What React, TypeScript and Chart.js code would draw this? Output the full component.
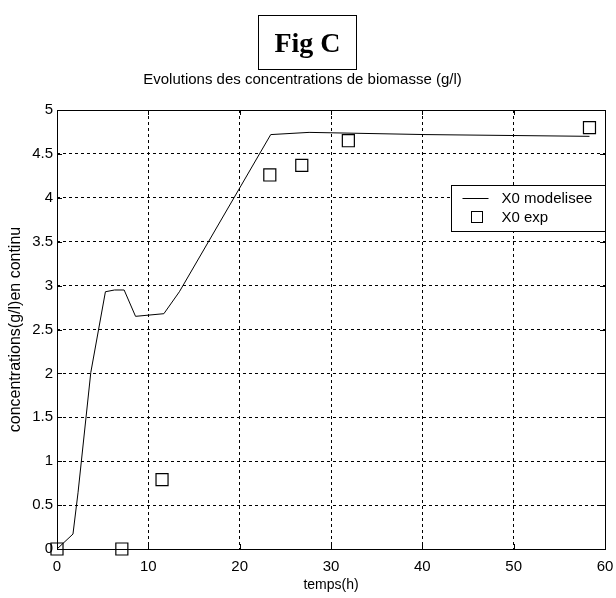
import { useEffect, useRef } from "react";
import { Chart, registerables } from "chart.js";

Chart.register(...registerables);

// ---- data ----
const figLabel = "Fig C";
const chartTitle = "Evolutions des concentrations de biomasse (g/l)";
const xLabel = "temps(h)";
const yLabel = "concentrations(g/l)en continu";
const seriesNames = ["X0 modelisee", "X0 exp"];

const timeModel = [0, 1.75, 2.3, 3.7, 5.3, 6.3, 7.35, 8.6, 11.7, 13.4, 23.4, 27.6, 40.4, 58.3];
const concModel = [0, 0.17, 0.64, 2.01, 2.93, 2.95, 2.95, 2.65, 2.68, 2.93, 4.72, 4.745, 4.72, 4.7];

const timeExp = [0, 7.1, 11.5, 23.3, 26.8, 31.9, 58.3];
const concExp = [0, 0, 0.79, 4.26, 4.37, 4.65, 4.8];

const xTicks = [0, 10, 20, 30, 40, 50, 60];
const yTicks = [0, 0.5, 1, 1.5, 2, 2.5, 3, 3.5, 4, 4.5, 5];

const FONT = "'Liberation Sans', Arial, sans-serif";

const framePlugin = {
  id: "matlabFrame",
  afterDatasetsDraw(chart: any) {
    const { ctx, chartArea: a } = chart;
    const xs = chart.scales.x;
    const ys = chart.scales.y;
    ctx.save();
    ctx.strokeStyle = "#000";
    ctx.lineWidth = 1;
    ctx.setLineDash([]);
    ctx.strokeRect(Math.round(a.left) + 0.5, Math.round(a.top) + 0.5, Math.round(a.right - a.left), Math.round(a.bottom - a.top));
    const tl = 5;
    ctx.beginPath();
    xTicks.forEach((v) => {
      const px = Math.round(xs.getPixelForValue(v)) + 0.5;
      ctx.moveTo(px, a.bottom);
      ctx.lineTo(px, a.bottom - tl);
      ctx.moveTo(px, a.top);
      ctx.lineTo(px, a.top + tl);
    });
    yTicks.forEach((v) => {
      const py = Math.round(ys.getPixelForValue(v)) + 0.5;
      ctx.moveTo(a.left, py);
      ctx.lineTo(a.left + tl, py);
      ctx.moveTo(a.right, py);
      ctx.lineTo(a.right - tl, py);
    });
    ctx.stroke();
    ctx.restore();
  },
  afterDraw(chart: any) {
    const { ctx, chartArea: a } = chart;
    const ds = chart.data.datasets;
    const right = Math.round(a.right) + 0.5;
    const top = Math.round(a.top + 75) + 0.5;
    const w = 154;
    const h = 46;
    const left = right - w;
    ctx.save();
    ctx.fillStyle = "#fff";
    ctx.fillRect(left, top, w, h);
    ctx.strokeStyle = "#000";
    ctx.lineWidth = 1;
    ctx.setLineDash([]);
    ctx.strokeRect(left, top, w, h);
    const y1 = top + 13;
    const y2 = top + 32;
    ctx.beginPath();
    ctx.moveTo(left + 11, y1);
    ctx.lineTo(left + 37, y1);
    ctx.stroke();
    ctx.fillStyle = "#fff";
    ctx.fillRect(left + 20, y2 - 6, 11, 11);
    ctx.strokeRect(left + 20, y2 - 6, 11, 11);
    ctx.fillStyle = "#000";
    ctx.font = `15px ${FONT}`;
    ctx.textBaseline = "middle";
    ctx.textAlign = "left";
    ctx.fillText(ds[0].label, left + 50, y1);
    ctx.fillText(ds[1].label, left + 50, y2);
    ctx.restore();
  },
};

export default function App() {
  const ref = useRef<HTMLCanvasElement>(null);

  useEffect(() => {
    if (!ref.current) return;
    const chart = new Chart(ref.current, {
      type: "scatter",
      data: {
        datasets: [
          {
            label: seriesNames[0],
            type: "line",
            data: timeModel.map((t, i) => ({ x: t, y: concModel[i] })),
            borderColor: "#000",
            borderWidth: 1,
            pointRadius: 0,
            tension: 0,
            fill: false,
          },
          {
            label: seriesNames[1],
            data: timeExp.map((t, i) => ({ x: t, y: concExp[i] })),
            pointStyle: "rect",
            pointRadius: 8.5,
            borderColor: "#000",
            backgroundColor: "rgba(255,255,255,0)",
            borderWidth: 1.2,
            clip: false,
          } as any,
        ],
      },
      options: {
        animation: false,
        responsive: false,
        devicePixelRatio: 1,
        layout: { padding: { top: 71, right: 11, left: 0, bottom: 0 } },
        plugins: {
          legend: { display: false },
          tooltip: { enabled: false },
          title: {
            display: true,
            text: chartTitle,
            color: "#000",
            font: { family: FONT, size: 15, weight: "normal" },
            padding: { top: 0, bottom: 21 },
          },
        },
        scales: {
          x: {
            type: "linear",
            min: 0,
            max: 60,
            afterBuildTicks: (s: any) => {
              s.ticks = xTicks.map((v) => ({ value: v }));
            },
            afterFit: (s: any) => {
              s.height = 49;
              s.paddingLeft = 0;
              s.paddingRight = 0;
            },
            grid: { color: "#000", lineWidth: 1, drawTicks: false },
            border: { display: false, dash: [3, 3] },
            ticks: {
              color: "#000",
              font: { family: FONT, size: 15 },
              padding: 9,
              maxRotation: 0,
            },
            title: {
              display: true,
              text: xLabel,
              color: "#000",
              font: { family: FONT, size: 14 },
              padding: { top: 0, bottom: 4 },
            },
          },
          y: {
            type: "linear",
            min: 0,
            max: 5,
            afterBuildTicks: (s: any) => {
              s.ticks = yTicks.map((v) => ({ value: v }));
            },
            afterFit: (s: any) => {
              s.width = 57;
              s.paddingTop = 0;
              s.paddingBottom = 0;
            },
            grid: { color: "#000", lineWidth: 1, drawTicks: false },
            border: { display: false, dash: [3, 3] },
            ticks: {
              color: "#000",
              font: { family: FONT, size: 15 },
              padding: 4,
              callback: (v: any) => String(v),
            },
            title: {
              display: true,
              text: yLabel,
              color: "#000",
              font: { family: FONT, size: 16 },
              padding: { top: 6, bottom: 0 },
            },
          },
        },
      },
      plugins: [framePlugin],
    });
    return () => chart.destroy();
  }, []);

  return (
    <div style={{ position: "fixed", left: 0, top: 0, width: 616, height: 598, background: "#fff" }}>
      <canvas ref={ref} width={616} height={598} style={{ position: "absolute", left: 0, top: 0, width: 616, height: 598 }} />
      <div
        style={{
          position: "absolute",
          left: 258,
          top: 15,
          width: 99,
          height: 55,
          boxSizing: "border-box",
          border: "1.5px solid #000",
          display: "flex",
          alignItems: "center",
          justifyContent: "center",
          fontFamily: "'Liberation Serif', 'Times New Roman', serif",
          fontWeight: "bold",
          fontSize: 28,
          color: "#000",
        }}
      >
        {figLabel}
      </div>
    </div>
  );
}
